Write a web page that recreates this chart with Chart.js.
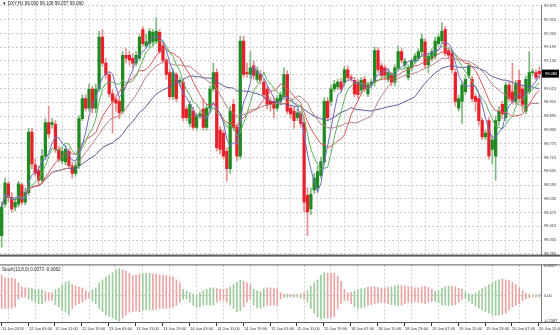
<!DOCTYPE html>
<html>
<head>
<meta charset="utf-8">
<script src="https://cdn.jsdelivr.net/npm/chart.js@4.4.1/dist/chart.umd.min.js"></script>
<style>
  html, body { margin: 0; padding: 0; background: #fff; }
  #wrap { width: 560px; height: 335px; position: relative; overflow: hidden; }
  #mainChart { position: absolute; left: 0; top: 0; }
  #subChart { position: absolute; left: 0; top: 260px; }
</style>
</head>
<body>
<div id="wrap">
  <canvas id="mainChart" width="560" height="260"></canvas>
  <canvas id="subChart" width="560" height="75"></canvas>
</div>
<script>
// DXY H1 candles
const symbolTitle = '\u25BC DXY,H1 99.090 99.108 99.057 99.080';
const oscTitle = 'Stoch(13,8,0) 0.0073 -0.0062';

const openPrices = [
  98.374, 98.512, 98.600, 98.541, 98.499, 98.512, 98.596, 98.520, 98.562, 98.825,
  98.683, 98.658, 98.616, 98.721, 98.867, 98.859, 98.859, 98.750, 98.700, 98.696,
  98.742, 98.679, 98.645, 98.679, 98.884, 98.971, 98.930, 99.013, 98.930, 99.013,
  99.239, 99.126, 99.076, 98.992, 98.967, 98.959, 98.917, 99.160, 99.160, 99.147,
  99.126, 99.147, 99.272, 99.201, 99.210, 99.218, 99.222, 99.260, 99.201, 99.139,
  99.084, 98.980, 99.076, 99.043, 99.043, 98.926, 98.863, 98.917, 98.846, 98.896,
  98.926, 98.846, 98.930, 99.013, 99.084, 98.834, 98.821, 98.742, 98.666, 98.946,
  98.846, 98.721, 99.222, 99.084, 99.076, 99.114, 99.055, 99.076, 99.043, 99.013,
  98.959, 98.959, 98.930, 98.959, 98.980, 99.076, 98.930, 98.917, 98.888, 98.905,
  98.867, 98.550, 98.491, 98.574, 98.583, 98.637, 98.696, 98.959, 98.959, 99.013,
  99.022, 99.043, 99.043, 99.097, 99.063, 99.051, 99.043, 99.009, 99.055, 98.992,
  99.030, 99.043, 99.180, 99.114, 99.105, 99.055, 99.072, 99.043, 99.105, 99.176,
  99.118, 99.063, 99.105, 99.135, 99.147, 99.176, 99.218, 99.118, 99.147, 99.156,
  99.210, 99.222, 99.272, 99.180, 99.168, 99.084, 98.930, 98.959, 99.001, 99.072,
  99.055, 98.980, 98.971, 98.875, 98.804, 98.875, 98.750, 98.721, 98.875, 98.946,
  98.888, 99.030, 99.001, 98.959, 99.051, 99.013, 98.917, 99.001, 99.084, 99.084,
  99.090
];
const highPrices = [
  98.520, 98.625, 98.612, 98.562, 98.541, 98.612, 98.604, 98.583, 98.842, 98.842,
  98.708, 98.675, 98.750, 98.884, 98.938, 98.884, 98.875, 98.763, 98.758, 98.767,
  98.754, 98.696, 98.696, 98.896, 98.988, 98.988, 99.034, 99.026, 99.034, 99.264,
  99.272, 99.147, 99.084, 99.009, 98.980, 98.976, 99.176, 99.189, 99.176, 99.168,
  99.176, 99.252, 99.285, 99.252, 99.277, 99.272, 99.323, 99.272, 99.218, 99.147,
  99.101, 99.101, 99.084, 99.063, 99.055, 98.938, 98.959, 98.934, 98.909, 98.917,
  98.971, 98.946, 99.026, 99.126, 99.101, 98.850, 98.834, 98.758, 98.938, 98.967,
  98.859, 99.243, 99.243, 99.126, 99.176, 99.135, 99.109, 99.093, 99.055, 99.026,
  98.976, 98.976, 98.984, 99.001, 99.105, 99.093, 98.942, 98.934, 98.926, 98.917,
  98.888, 98.583, 98.583, 98.645, 98.675, 98.717, 98.976, 98.976, 99.030, 99.051,
  99.055, 99.059, 99.114, 99.114, 99.076, 99.063, 99.055, 99.063, 99.068, 99.043,
  99.055, 99.197, 99.193, 99.126, 99.118, 99.101, 99.084, 99.118, 99.201, 99.189,
  99.147, 99.118, 99.147, 99.168, 99.189, 99.252, 99.231, 99.168, 99.189, 99.239,
  99.252, 99.302, 99.285, 99.193, 99.180, 99.101, 98.988, 99.043, 99.072, 99.126,
  99.068, 98.992, 98.984, 98.888, 98.834, 98.888, 98.808, 98.896, 98.938, 98.959,
  99.043, 99.043, 99.126, 99.051, 99.097, 99.026, 99.068, 99.176, 99.101, 99.097,
  99.108
];
const lowPrices = [
  98.324, 98.499, 98.520, 98.478, 98.482, 98.499, 98.508, 98.508, 98.550, 98.666,
  98.633, 98.591, 98.604, 98.708, 98.800, 98.842, 98.737, 98.696, 98.687, 98.683,
  98.666, 98.625, 98.633, 98.666, 98.875, 98.917, 98.917, 98.909, 98.909, 99.001,
  99.114, 99.059, 98.976, 98.821, 98.917, 98.884, 98.905, 99.126, 99.118, 99.105,
  99.114, 99.135, 99.201, 99.193, 99.193, 99.201, 99.210, 99.168, 99.126, 99.055,
  98.967, 98.967, 98.959, 99.026, 98.875, 98.875, 98.850, 98.834, 98.834, 98.884,
  98.834, 98.834, 98.917, 99.001, 98.742, 98.729, 98.708, 98.612, 98.645, 98.834,
  98.700, 98.708, 99.063, 99.063, 99.059, 99.055, 99.043, 99.034, 98.971, 98.926,
  98.917, 98.888, 98.917, 98.946, 98.967, 98.905, 98.884, 98.842, 98.875, 98.846,
  98.478, 98.374, 98.466, 98.558, 98.562, 98.625, 98.683, 98.875, 98.942, 99.001,
  99.009, 99.001, 99.026, 99.051, 99.047, 98.980, 98.971, 98.992, 99.001, 98.980,
  99.017, 99.026, 99.084, 99.055, 99.051, 99.043, 99.026, 99.026, 99.097, 99.126,
  99.105, 99.051, 99.093, 99.126, 99.135, 99.160, 99.105, 99.084, 99.135, 99.143,
  99.201, 99.210, 99.156, 99.143, 99.084, 98.938, 98.917, 98.863, 98.988, 99.059,
  98.959, 98.917, 98.854, 98.792, 98.792, 98.708, 98.687, 98.616, 98.854, 98.884,
  98.875, 98.959, 98.946, 98.946, 98.959, 98.917, 98.905, 98.992, 99.072, 99.051,
  99.057
];
const closePrices = [
  98.499, 98.604, 98.541, 98.491, 98.520, 98.600, 98.520, 98.562, 98.825, 98.687,
  98.645, 98.616, 98.721, 98.867, 98.817, 98.867, 98.750, 98.708, 98.742, 98.750,
  98.679, 98.645, 98.679, 98.884, 98.971, 98.930, 99.013, 98.930, 99.013, 99.239,
  99.126, 99.076, 98.992, 98.959, 98.951, 98.909, 99.160, 99.147, 99.139, 99.126,
  99.160, 99.239, 99.210, 99.218, 99.264, 99.260, 99.264, 99.176, 99.139, 99.076,
  98.980, 99.084, 98.971, 99.051, 98.888, 98.888, 98.946, 98.846, 98.896, 98.905,
  98.846, 98.930, 99.013, 99.084, 98.758, 98.750, 98.721, 98.666, 98.917, 98.846,
  98.721, 99.222, 99.076, 99.080, 99.105, 99.072, 99.093, 99.051, 98.988, 98.946,
  98.946, 98.930, 98.971, 98.988, 99.076, 98.917, 98.905, 98.875, 98.909, 98.863,
  98.520, 98.478, 98.554, 98.625, 98.654, 98.696, 98.959, 98.888, 99.013, 99.034,
  99.043, 99.013, 99.097, 99.063, 99.059, 98.992, 98.988, 99.051, 99.013, 99.030,
  99.043, 99.180, 99.097, 99.072, 99.072, 99.084, 99.043, 99.105, 99.176, 99.139,
  99.135, 99.105, 99.135, 99.156, 99.176, 99.231, 99.118, 99.156, 99.176, 99.222,
  99.239, 99.264, 99.168, 99.160, 99.097, 98.959, 98.971, 99.030, 99.055, 99.114,
  98.971, 98.959, 98.875, 98.804, 98.821, 98.721, 98.792, 98.875, 98.917, 98.905,
  99.030, 98.971, 98.959, 99.034, 98.971, 98.946, 99.055, 99.084, 99.086, 99.063,
  99.080
];

// oscillator histogram: top and bottom of each bar, colour flag (1 green, 0 pink)
const oscHigh = [
  0.130, 0.110, 0.110, 0.110, 0.104, 0.080, 0.056, 0.050, 0.050, 0.046,
  0.040, 0.040, 0.036, 0.024, 0.020, 0.020, 0.036, 0.050, 0.070, 0.084,
  0.090, 0.070, 0.060, 0.054, 0.050, 0.030, 0.020, 0.036, 0.050, 0.080,
  0.100, 0.116, 0.130, 0.144, 0.160, 0.170, 0.164, 0.156, 0.140, 0.124,
  0.130, 0.136, 0.140, 0.140, 0.140, 0.136, 0.136, 0.130, 0.130, 0.126,
  0.120, 0.116, 0.100, 0.080, 0.040, 0.030, 0.020, 0.010, 0.004, 0.016,
  0.030, 0.040, 0.050, 0.050, 0.044, 0.040, 0.040, 0.044, 0.056, 0.070,
  0.084, 0.096, 0.090, 0.080, 0.070, 0.040, 0.030, 0.024, 0.044, 0.050,
  0.050, 0.048, 0.044, 0.020, 0.010, 0.010, 0.008, 0.008, 0.010, 0.014,
  0.020, 0.030, 0.060, 0.080, 0.100, 0.130, 0.144, 0.140, 0.140, 0.140,
  0.120, 0.090, 0.040, 0.016, 0.020, 0.030, 0.040, 0.044, 0.048, 0.052,
  0.056, 0.056, 0.052, 0.048, 0.050, 0.052, 0.056, 0.060, 0.064, 0.064,
  0.060, 0.056, 0.056, 0.050, 0.050, 0.056, 0.060, 0.052, 0.040, 0.028,
  0.032, 0.048, 0.056, 0.060, 0.060, 0.056, 0.048, 0.040, 0.024, 0.012,
  0.008, 0.016, 0.030, 0.044, 0.056, 0.070, 0.080, 0.090, 0.100, 0.104,
  0.100, 0.096, 0.084, 0.070, 0.050, 0.030, 0.016, 0.008, 0.006, 0.006,
  0.010
];
const oscLow = [
  -0.080, -0.080, -0.080, -0.080, -0.070, -0.020, -0.010, -0.010, -0.020, -0.030,
  -0.040, -0.050, -0.050, -0.036, -0.030, -0.030, -0.056, -0.070, -0.090, -0.104,
  -0.120, -0.080, -0.060, -0.050, -0.040, -0.024, -0.016, -0.036, -0.050, -0.080,
  -0.100, -0.120, -0.130, -0.140, -0.150, -0.160, -0.140, -0.120, -0.104, -0.100,
  -0.096, -0.100, -0.090, -0.090, -0.090, -0.090, -0.086, -0.080, -0.080, -0.080,
  -0.076, -0.070, -0.060, -0.040, -0.024, -0.020, -0.040, -0.060, -0.070, -0.070,
  -0.060, -0.056, -0.060, -0.060, -0.040, -0.030, -0.030, -0.040, -0.060, -0.080,
  -0.100, -0.096, -0.070, -0.040, -0.024, -0.060, -0.076, -0.080, -0.070, -0.060,
  -0.060, -0.060, -0.060, -0.020, -0.010, -0.010, -0.008, -0.008, -0.010, -0.016,
  -0.024, -0.040, -0.080, -0.110, -0.136, -0.144, -0.140, -0.140, -0.136, -0.130,
  -0.080, -0.050, -0.030, -0.030, -0.050, -0.070, -0.080, -0.076, -0.070, -0.060,
  -0.056, -0.050, -0.044, -0.040, -0.044, -0.050, -0.056, -0.060, -0.064, -0.060,
  -0.050, -0.040, -0.040, -0.036, -0.040, -0.044, -0.050, -0.040, -0.036, -0.036,
  -0.044, -0.056, -0.060, -0.064, -0.060, -0.056, -0.040, -0.024, -0.020, -0.036,
  -0.050, -0.064, -0.076, -0.090, -0.100, -0.110, -0.120, -0.124, -0.120, -0.116,
  -0.110, -0.090, -0.070, -0.060, -0.050, -0.030, -0.020, -0.012, -0.008, -0.008,
  -0.010
];
const oscUp = [
  0, 0, 0, 0, 0, 0, 0, 0, 1, 1, 1, 1, 1, 0, 0, 0, 1, 1, 1, 1,
  1, 0, 0, 0, 0, 0, 0, 1, 1, 1, 1, 1, 1, 1, 1, 1, 0, 0, 0, 0,
  0, 0, 1, 1, 1, 0, 0, 0, 0, 0, 0, 0, 0, 0, 1, 1, 1, 1, 1, 1,
  1, 1, 1, 1, 0, 0, 0, 0, 1, 1, 1, 1, 0, 0, 0, 1, 1, 1, 1, 0,
  0, 0, 0, 0, 0, 1, 0, 1, 0, 1, 0, 1, 1, 1, 1, 1, 1, 0, 0, 0,
  0, 0, 0, 0, 0, 1, 1, 1, 1, 0, 0, 0, 0, 0, 0, 0, 1, 1, 1, 0,
  0, 0, 0, 0, 0, 0, 0, 0, 0, 1, 1, 1, 1, 1, 0, 0, 0, 0, 1, 1,
  1, 1, 1, 1, 1, 1, 1, 1, 1, 0, 0, 0, 0, 0, 0, 0, 0, 0, 1, 0,
  1
];

// axis labels
const priceTicks = [
  98.295, 98.355, 98.415, 98.475, 98.535, 98.595, 98.655, 98.715, 98.775, 98.835,
  98.895, 98.955, 99.015, 99.075, 99.135, 99.195, 99.255, 99.315, 99.375
];
const oscTicks = [0.1857, 0, -0.1587];
const timeLabels = [
  '11 Jan 2016', '12 Jan 03:00', '12 Jan 11:00', '12 Jan 19:00', '13 Jan 03:00',
  '13 Jan 11:00', '13 Jan 19:00', '14 Jan 03:00', '14 Jan 11:00', '14 Jan 19:00',
  '15 Jan 03:00', '15 Jan 11:00', '15 Jan 19:00', '18 Jan 07:00', '18 Jan 15:00',
  '18 Jan 23:00', '19 Jan 07:00', '19 Jan 15:00', '19 Jan 23:00', '20 Jan 07:00',
  '20 Jan 15:00'
];
const barsPerLabel = 8;

const maPeriods = [5, 8, 13, 21, 34];
const maColors = ['#6c6cc8', '#5cb05c', '#d85858', '#b88080', '#5a5a9a'];

const fontFamily = '"Liberation Sans", Arial, sans-serif';
const gridColor = '#cdcdcd';
const upColor = '#1f8a1f';
const downColor = '#e8202a';

function sma(values, period) {
    return values.map((_, i) => {
        const from = Math.max(0, i - period + 1);
        const part = values.slice(from, i + 1);
        return part.reduce((a, b) => a + b, 0) / part.length;
    });
}

const barIndex = closePrices.map((_, i) => i);
const isUp = closePrices.map((c, i) => c >= openPrices[i]);

const maDatasets = maPeriods.map((p, k) => ({
    type: 'line',
    label: 'MA' + p,
    data: sma(closePrices, p),
    borderColor: maColors[k],
    borderWidth: 1,
    pointRadius: 0,
    tension: 0,
    order: 0
}));

const mainOverlay = {
    id: 'mainOverlay',
    afterDraw(chart) {
        const { ctx, chartArea, scales } = chart;
        ctx.save();
        ctx.font = '4.5px ' + fontFamily;
        ctx.textBaseline = 'middle';
        ctx.fillStyle = '#222';
        ctx.fillText(symbolTitle, 2, 4);
        ctx.fillStyle = '#5a5a5a';
        ctx.fillRect(0, chartArea.bottom, chart.width, 2);
        const last = closePrices[closePrices.length - 1];
        const y = scales.y.getPixelForValue(last);
        ctx.fillStyle = '#000';
        ctx.fillRect(chartArea.right + 1, y - 4, chart.width - chartArea.right - 2, 8);
        ctx.fillStyle = '#fff';
        ctx.font = '4px ' + fontFamily;
        ctx.fillText(last.toFixed(3), chartArea.right + 4, y + 0.5);
        ctx.restore();
    }
};

const subOverlay = {
    id: 'subOverlay',
    afterDraw(chart) {
        const { ctx, chartArea, scales } = chart;
        ctx.save();
        ctx.fillStyle = '#5a5a5a';
        ctx.fillRect(0, chartArea.top - 1, chart.width, 1);
        ctx.fillRect(0, chartArea.bottom, chart.width, 1);
        ctx.font = '4.5px ' + fontFamily;
        ctx.textBaseline = 'middle';
        ctx.fillStyle = '#222';
        ctx.fillText(oscTitle, 2, chartArea.top + 4);
        ctx.font = '4px ' + fontFamily;
        ctx.fillStyle = '#333';
        timeLabels.forEach((text, k) => {
            const x = Math.round(scales.x.getPixelForValue(k * barsPerLabel));
            ctx.fillRect(x - 1, chartArea.bottom + 1, 1, 3);
            ctx.fillText(text, x, chartArea.bottom + 7);
        });
        ctx.restore();
    }
};

new Chart(document.getElementById('mainChart'), {
    type: 'bar',
    data: {
        labels: barIndex,
        datasets: [
            ...maDatasets,
            {
                label: 'body',
                data: openPrices.map((o, i) => [o, closePrices[i]]),
                backgroundColor: isUp.map(u => u ? upColor : downColor),
                barThickness: 2.6,
                minBarLength: 1,
                grouped: false,
                order: 1
            },
            {
                label: 'wick',
                data: lowPrices.map((l, i) => [l, highPrices[i]]),
                backgroundColor: isUp.map(u => u ? '#7fb87f' : '#e88c8c'),
                barThickness: 1,
                grouped: false,
                order: 2
            }
        ]
    },
    options: {
        responsive: false,
        animation: false,
        events: [],
        layout: { padding: { top: 0, bottom: 2, left: 0, right: 0 } },
        plugins: { legend: { display: false }, tooltip: { enabled: false } },
        scales: {
            x: {
                type: 'category',
                offset: true,
                grid: {
                    offset: false,
                    drawTicks: false,
                    color: ctx => ctx.index % 4 === 2 ? gridColor : 'rgba(0,0,0,0)'
                },
                border: { display: false, dash: [2, 2] },
                ticks: { display: false, autoSkip: false }
            },
            y: {
                position: 'right',
                min: 98.292,
                max: 99.377,
                afterBuildTicks: s => { s.ticks = priceTicks.map(v => ({ value: v })); },
                afterFit: s => { s.width = 19; },
                grid: { color: gridColor, drawTicks: false },
                border: { display: true, color: '#7a7a7a', dash: [2, 2] },
                ticks: {
                    font: { size: 4, family: fontFamily },
                    color: '#333',
                    padding: 3,
                    callback: v => Number(v).toFixed(3)
                }
            }
        }
    },
    plugins: [mainOverlay]
});

new Chart(document.getElementById('subChart'), {
    type: 'bar',
    data: {
        labels: barIndex,
        datasets: [{
            label: 'osc',
            data: oscLow.map((l, i) => [l, oscHigh[i]]),
            backgroundColor: oscUp.map(u => u ? '#9ccc9c' : '#e8a4a4'),
            barThickness: 1,
            grouped: false
        }]
    },
    options: {
        responsive: false,
        animation: false,
        events: [],
        layout: { padding: { top: 2, bottom: 13, left: 0, right: 0 } },
        plugins: { legend: { display: false }, tooltip: { enabled: false } },
        scales: {
            x: {
                type: 'category',
                offset: true,
                grid: {
                    offset: false,
                    drawTicks: false,
                    color: ctx => ctx.index % 8 === 2 ? gridColor : 'rgba(0,0,0,0)'
                },
                border: { display: false, dash: [2, 2] },
                ticks: { display: false, autoSkip: false }
            },
            y: {
                position: 'right',
                min: -0.165,
                max: 0.19,
                afterBuildTicks: s => { s.ticks = oscTicks.map(v => ({ value: v })); },
                afterFit: s => { s.width = 19; },
                grid: { color: ctx => ctx.tick && ctx.tick.value === 0 ? gridColor : 'rgba(0,0,0,0)', drawTicks: false },
                border: { display: true, color: '#7a7a7a', dash: [2, 2] },
                ticks: {
                    font: { size: 4, family: fontFamily },
                    color: '#333',
                    padding: 3,
                    callback: v => v === 0 ? '0.00' : Number(v).toFixed(4)
                }
            }
        }
    },
    plugins: [subOverlay]
});
</script>
</body>
</html>
